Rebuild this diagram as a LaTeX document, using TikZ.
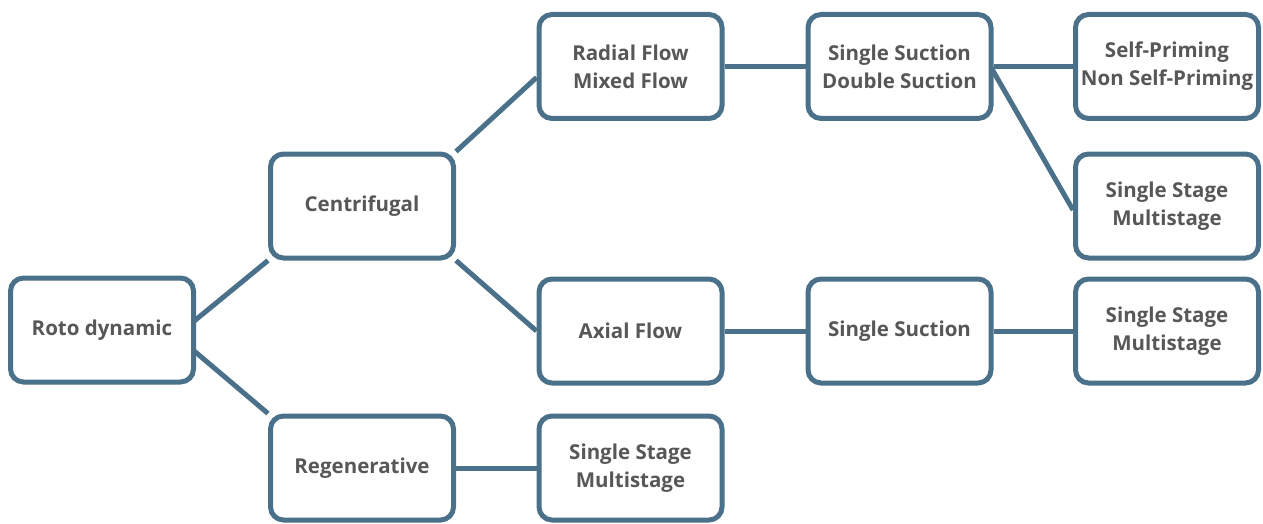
\documentclass[tikz,border=0pt]{standalone}
\usepackage{fontspec}
\setmainfont{Open Sans}
\usetikzlibrary{calc,backgrounds}
\definecolor{boxblue}{HTML}{4A7189}
\definecolor{txtgray}{HTML}{575757}
\begin{document}
\begin{tikzpicture}[x=1pt,y=1pt,
  box/.style={draw=boxblue, line width=5pt, rounded corners=13pt, fill=white,
    minimum width=183pt, minimum height=104pt, inner sep=0pt,
    text=txtgray, font=\fontsize{20.5}{28}\selectfont\bfseries, align=center},
  link/.style={draw=boxblue, line width=5pt}]
\useasboundingbox (0,0) rectangle (1263,-524);
\node[box] (roto) at (102,-330) {Roto dynamic};
\node[box] (cent) at (362,-206) {Centrifugal};
\node[box] (regen) at (362,-468) {Regenerative};
\node[box] (radial) at (630.5,-66.5) {Radial Flow\\Mixed Flow};
\node[box] (axial) at (630.5,-331) {Axial Flow};
\node[box] (regss) at (630.5,-468) {Single Stage\\Multistage};
\node[box] (ssds) at (899.5,-66.5) {Single Suction\\Double Suction};
\node[box] (ss) at (899.5,-331) {Single Suction};
\node[box] (self) at (1167,-66.5) {Self-Priming\\Non Self-Priming};
\node[box] (ssm1) at (1167,-206) {Single Stage\\Multistage};
\node[box] (ssm2) at (1167,-331) {Single Stage\\Multistage};
\begin{scope}[on background layer]
\draw[link] ($(roto.east)+(-3,8)$) -- (cent.south west);
\draw[link] ($(roto.east)+(-3,-20)$) -- (regen.north west);
\draw[link] (cent.north east) -- ($(radial.west)+(0,-11)$);
\draw[link] (cent.south east) -- (axial.west);
\draw[link] (regen.east) -- (regss.west);
\draw[link] (radial.east) -- (ssds.west);
\draw[link] (axial.east) -- (ss.west);
\draw[link] (ssds.east) -- (self.west);
\draw[link] ($(ssds.east)+(-3,0)$) -- ($(ssm1.west)+(0,-4)$);
\draw[link] (ss.east) -- (ssm2.west);
\end{scope}
\end{tikzpicture}
\end{document}
